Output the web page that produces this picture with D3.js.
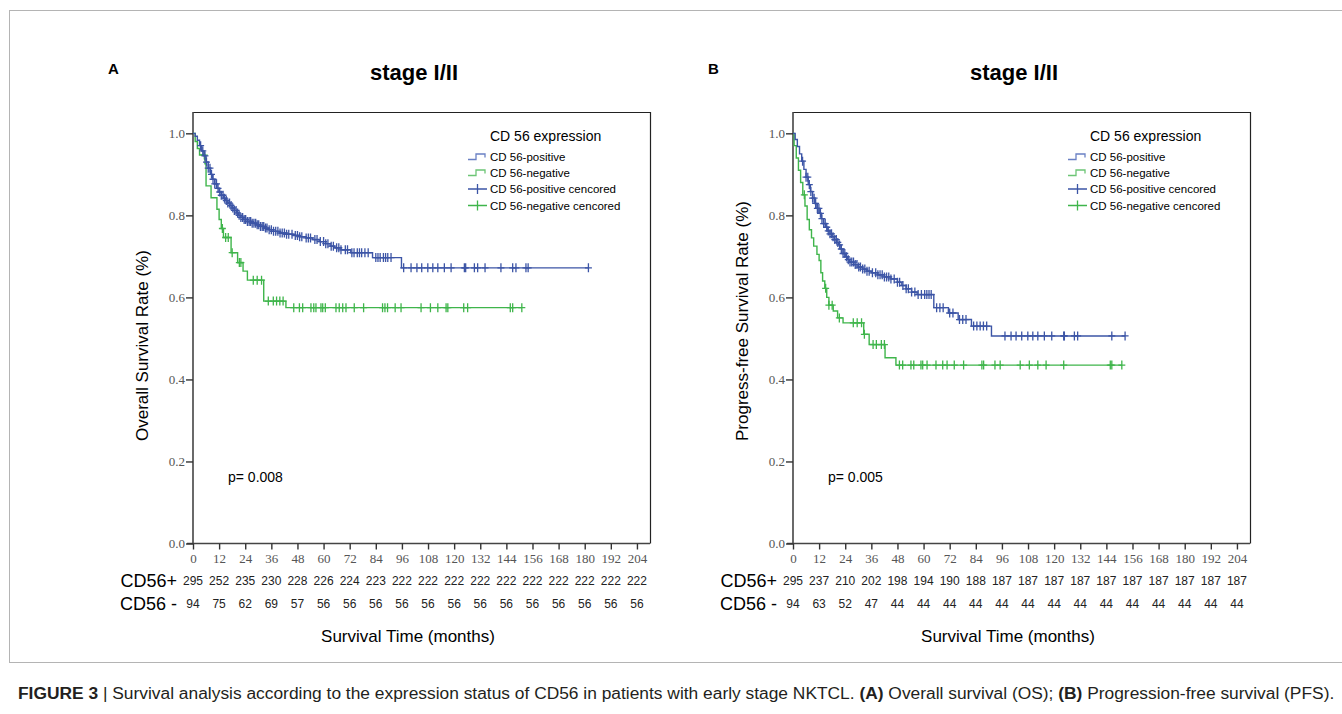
<!DOCTYPE html>
<meta charset="utf-8">
<style>
body { margin: 0; background: #fff; font-family: "Liberation Sans", Arial, sans-serif; }
svg { display: block; }
.tick-label { font-family: "Liberation Serif", "Times New Roman", serif; font-size: 13px; fill: #555; }
</style>
<body>
<script src="https://cdnjs.cloudflare.com/ajax/libs/d3/7.8.5/d3.min.js"></script>
<div id="chart"></div>
<script>

// x ticks (months) and numbers at risk
var monthTicks = [0, 12, 24, 36, 48, 60, 72, 84, 96, 108, 120, 132, 144, 156, 168, 180, 192, 204];
var yTicks = [0, 0.2, 0.4, 0.6, 0.8, 1.0];

var riskPosA = [295, 252, 235, 230, 228, 226, 224, 223, 222, 222, 222, 222, 222, 222, 222, 222, 222, 222];
var riskNegA = [94, 75, 62, 69, 57, 56, 56, 56, 56, 56, 56, 56, 56, 56, 56, 56, 56, 56];
var riskPosB = [295, 237, 210, 202, 198, 194, 190, 188, 187, 187, 187, 187, 187, 187, 187, 187, 187, 187];
var riskNegB = [94, 63, 52, 47, 44, 44, 44, 44, 44, 44, 44, 44, 44, 44, 44, 44, 44, 44];

// survival steps [month, survival] (panel A : overall survival)
var posStepsA = [[0,1],[1,0.993],[2,0.983],[3,0.970],[4,0.957],[5,0.945],[6,0.930],[7,0.915],[8,0.900],[9,0.888],
  [10,0.877],[11,0.866],[12,0.857],[13,0.849],[14,0.842],[15,0.836],[16,0.830],[17,0.824],[18,0.818],[19,0.812],
  [20,0.806],[21,0.800],[22,0.795],[23,0.790],[25,0.785],[27,0.781],[29,0.777],[31,0.773],[33,0.769],[35,0.765],
  [37,0.761],[40,0.757],[43,0.754],[46,0.751],[49,0.748],[52,0.745],[55,0.741],[58,0.736],[61,0.731],[63,0.725],
  [65,0.721],[68,0.716],[72.5,0.709],[82.5,0.697],[95.8,0.672]];
var posEndA = 181.7;
var negStepsA = [[0,1],[1,0.98],[2,0.963],[3,0.947],[5.5,0.926],[6,0.872],[8.3,0.843],[11,0.815],[12,0.79],[13,0.768],
  [14,0.746],[17.5,0.709],[20.5,0.685],[23,0.664],[25,0.642],[32.5,0.591],[42.7,0.575]];
var negEndA = 151.1;

var posCensorA = [3.5, 4.5, 5.5, 6.2, 7, 7.8, 8.5, 9.2, 10, 10.8, 11.5, 12.3, 13, 13.8, 14.5, 15.3, 16, 16.8, 17.5, 18.3,
  19, 19.8, 20.5, 21.2, 22, 22.8, 23.5, 24.2, 25, 25.8, 26.5, 27.2, 28, 28.8, 29.5, 30.2, 31, 31.8, 32.5, 33.3, 34, 35,
  36, 37, 38, 39, 40, 41, 42, 43, 44, 45.5, 47, 48, 49, 50, 52, 53, 54, 56, 57, 58.5, 60, 61, 62, 63.5, 64.5, 66, 67, 68,
  70, 71, 73, 74, 75.5, 76.5, 77.5, 79, 80.5, 84, 85, 86, 87.5, 88.5, 89.5, 91,
  96.8, 100.2, 102.9, 105.1, 107.9, 110.2, 112.5, 115.5, 118.6, 124.7, 125.3, 129.3, 130.8, 134.2, 141.5, 146.9, 148.4,
  153, 154, 181.7];
var negCensorA = [5.2, 13.5, 15, 16.2, 18, 21.3, 22, 27.7, 29.5, 31.5, 34.6, 36.9, 38.4, 39.9, 41.4, 46.3, 48.9, 50.4,
  54.2, 55.5, 56.5, 58.8, 59.6, 60.8, 65.7, 67.2, 68.8, 70.3, 74.1, 78.4, 87.1, 88.2, 89.4, 92.9, 95.6, 104.8, 109.1,
  112.5, 116.3, 117.1, 124.4, 126.2, 145.8, 146.9, 151.1];

// panel B : progression-free survival
var posStepsB = [[0,1],[1,0.985],[2,0.968],[3,0.950],[4,0.932],[5,0.912],[6,0.893],[7,0.875],[8,0.858],[9,0.842],
  [10,0.829],[11,0.817],[12,0.805],[13,0.792],[14,0.780],[15,0.771],[16,0.762],[17,0.755],[18,0.748],[19,0.741],
  [20,0.734],[21,0.728],[22,0.718],[23,0.707],[24,0.699],[25,0.692],[26,0.686],[28,0.680],[30,0.674],[32,0.669],
  [34,0.664],[36,0.660],[39,0.655],[42,0.650],[45,0.645],[48,0.637],[50,0.629],[52,0.621],[54.5,0.613],[57,0.607],
  [64.7,0.575],[71.4,0.562],[75.9,0.546],[82,0.530],[91.2,0.506]];
var posEndB = 152.6;
var negStepsB = [[0,1],[0.5,0.97],[1.5,0.94],[2.5,0.91],[3.5,0.88],[4.5,0.85],[5.5,0.823],[6.5,0.79],[7.5,0.765],
  [8.5,0.745],[9.5,0.725],[11,0.705],[12,0.69],[12.8,0.66],[13.6,0.64],[14.6,0.622],[15.5,0.6],[16.5,0.581],
  [18.5,0.567],[20.5,0.55],[23,0.538],[32.5,0.51],[35,0.485],[42.3,0.453],[47.3,0.435]];
var negEndB = 151.1;

var posCensorB = [4.4, 6, 6.8, 7.5, 8.2, 9, 9.7, 10.4, 11.2, 11.9, 12.6, 13.3, 14.1, 14.8, 15.5, 16.2, 17, 17.7, 18.4,
  19.2, 19.9, 20.6, 21.4, 22.2, 23, 23.8, 24.6, 25.4, 26.2, 27, 27.8, 28.6, 29.4, 30.2, 31, 32, 33, 34, 35, 36.5, 38, 39,
  40, 41, 42, 43, 44, 45, 46.5, 48, 49, 50.5, 52, 53, 54.5, 56, 57.5, 59, 60.5, 61.5, 62.5, 63.5, 66, 67.5, 69, 72, 73.5,
  76.5, 78, 79.5, 83, 84.5, 86, 87.5, 89,
  97.4, 100.2, 102.5, 105.1, 107.9, 110.2, 112.5, 115.5, 118.9, 124.4, 124.7, 129.3, 130.8, 146.5, 152.6];
var negCensorB = [5.2, 15, 16.5, 18, 21.3, 27.7, 29.5, 31.5, 32.8, 36.8, 38.3, 40.6, 42, 48.9, 50.4, 54.2, 55.5, 58.8,
  59.6, 61.6, 65.7, 68.8, 70.8, 74.1, 78.4, 86.8, 87.6, 92.8, 95.2, 104.4, 108.6, 112.5, 116.3, 124.4, 145.8, 146.5, 151.1];

var legendItems = ["CD 56-positive", "CD 56-negative", "CD 56-positive cencored", "CD 56-negative cencored"];

var blue = "#3c55a6";
var green = "#3fb54b";

var largeur = 1342, hauteur = 714;

const svg = d3.select("#chart").append("svg")
    .attr("width", largeur)
    .attr("height", hauteur);

// cadre de la figure
svg.append("rect")
    .attr("x", 9.5).attr("y", 10.5)
    .attr("width", 1340).attr("height", 652)
    .attr("fill", "none")
    .attr("stroke", "#b4b4b4")
    .attr("stroke-width", 1);

function survieA(steps, t) {
    var s = steps[0][1];
    for (var i = 0; i < steps.length; i++) {
        if (steps[i][0] <= t) s = steps[i][1];
    }
    return s;
}

function drawPanel(p) {
    var g = svg.append("g").attr("transform", "translate(" + p.dx + ",0)");

    var x = d3.scaleLinear().domain([0, 210]).range([193, 650]);
    var y = d3.scaleLinear().domain([0, 1.052]).range([543.5, 112]);

    g.append("text")
        .attr("x", 108).attr("y", 74)
        .style("font-size", "15px").style("font-weight", "bold")
        .text(p.letter);

    g.append("text")
        .attr("x", 414).attr("y", 80)
        .attr("text-anchor", "middle")
        .style("font-size", "22px").style("font-weight", "bold")
        .text("stage I/II");

    // cadre haut et droite
    g.append("path")
        .attr("d", "M" + x(0) + "," + (y(1.052) + 0.5) + "H" + (x(210) + 0.5) + "V" + y(0))
        .attr("fill", "none")
        .attr("stroke", "#222")
        .attr("stroke-width", 1.2);

    // axes
    var xAxis = d3.axisBottom(x).tickValues(monthTicks).tickSize(6).tickFormat(d3.format("d"));
    var gx = g.append("g")
        .attr("transform", "translate(0," + y(0) + ")")
        .call(xAxis);
    gx.select(".domain").attr("d", "M" + (x(0) - 6) + ",0H" + x(210)).attr("stroke", "#444").attr("stroke-width", 1.6);
    gx.selectAll(".tick line").attr("stroke", "#333").attr("stroke-width", 1.4);
    gx.selectAll(".tick text").attr("class", "tick-label").attr("dy", 0).attr("y", 19)
        .attr("font-family", null).attr("font-size", null).attr("fill", null);

    var yAxis = d3.axisLeft(y).tickValues(yTicks).tickSize(7).tickFormat(d3.format(".1f"));
    var gy = g.append("g")
        .attr("transform", "translate(" + x(0) + ",0)")
        .call(yAxis);
    gy.select(".domain").attr("d", "M0," + y(0) + "V" + y(1.052)).attr("stroke", "#444").attr("stroke-width", 1.6);
    gy.selectAll(".tick line").attr("stroke", "#333").attr("stroke-width", 1.4);
    gy.selectAll(".tick text").attr("class", "tick-label").attr("x", -8).attr("dy", "0.32em")
        .attr("font-family", null).attr("font-size", null).attr("fill", null);

    // titre axe y
    g.append("text")
        .attr("transform", "translate(148,441) rotate(-90)")
        .attr("text-anchor", "start")
        .style("font-size", "17px")
        .text(p.yLabel);

    // courbes
    var line = d3.line()
        .x(d => x(d[0]))
        .y(d => y(d[1]))
        .curve(d3.curveStepAfter);

    var series = [
        {steps: p.negSteps, end: p.negEnd, censor: p.negCensor, color: green},
        {steps: p.posSteps, end: p.posEnd, censor: p.posCensor, color: blue}
    ];
    series.forEach(function(s) {
        var pts = s.steps.concat([[s.end, s.steps[s.steps.length - 1][1]]]);
        g.append("path")
            .datum(pts)
            .attr("fill", "none")
            .attr("stroke", s.color)
            .attr("stroke-width", 1.4)
            .attr("d", line);
        g.selectAll(null)
            .data(s.censor)
            .enter().append("path")
            .attr("d", function(t) {
                var cx = x(t), cy = y(survieA(s.steps, t));
                return "M" + (cx - 3.5) + "," + cy + "H" + (cx + 3.5) + "M" + cx + "," + (cy - 4.5) + "V" + (cy + 4.5);
            })
            .attr("stroke", s.color)
            .attr("stroke-width", 1.3)
            .attr("fill", "none");
    });

    // légende
    g.append("text")
        .attr("x", 490).attr("y", 141)
        .style("font-size", "14px")
        .text("CD 56 expression");
    var lg = g.selectAll(".leg")
        .data(legendItems)
        .enter().append("g")
        .attr("transform", (d, i) => "translate(0," + [156.5, 172.5, 189, 205.5][i] + ")");
    lg.append("text")
        .attr("x", 490).attr("y", 4)
        .style("font-size", "11.5px")
        .text(d => d);
    lg.append("path")
        .attr("d", function(d, i) {
            if (i < 2) return "M468,3H476V-2.5H485V1";
            return "M468,0H487M477.5,-5V5";
        })
        .attr("fill", "none")
        .attr("stroke", (d, i) => (i % 2 === 0 ? (i < 2 ? "#6a80c4" : blue) : (i < 2 ? "#6cc575" : green)))
        .attr("stroke-width", 1.3);

    // p value
    g.append("text")
        .attr("x", 228).attr("y", 482)
        .style("font-size", "14px")
        .text(p.pval);

    // nombre de sujets à risque
    g.append("text").attr("x", 177).attr("y", 587).attr("text-anchor", "end").style("font-size", "18px").text("CD56+");
    g.append("text").attr("x", 177).attr("y", 610).attr("text-anchor", "end").style("font-size", "18px").text("CD56 -");
    [[p.riskPos, 585], [p.riskNeg, 608]].forEach(function(r) {
        g.selectAll(null)
            .data(r[0])
            .enter().append("text")
            .attr("x", (d, i) => x(monthTicks[i]))
            .attr("y", r[1])
            .attr("text-anchor", "middle")
            .style("font-size", "12px")
            .style("fill", "#222")
            .text(d => d);
    });

    g.append("text")
        .attr("x", 408).attr("y", 642)
        .attr("text-anchor", "middle")
        .style("font-size", "17px")
        .text("Survival Time (months)");
}

drawPanel({dx: 0, letter: "A", yLabel: "Overall Survival Rate (%)", pval: "p= 0.008",
    posSteps: posStepsA, posEnd: posEndA, negSteps: negStepsA, negEnd: negEndA,
    posCensor: posCensorA, negCensor: negCensorA, riskPos: riskPosA, riskNeg: riskNegA});
drawPanel({dx: 600, letter: "B", yLabel: "Progress-free Survival Rate (%)", pval: "p= 0.005",
    posSteps: posStepsB, posEnd: posEndB, negSteps: negStepsB, negEnd: negEndB,
    posCensor: posCensorB, negCensor: negCensorB, riskPos: riskPosB, riskNeg: riskNegB});

// légende de la figure
var cap = svg.append("text")
    .attr("x", 0).attr("y", 0)
    .style("font-family", "'Liberation Sans Narrow', 'Arial Narrow', 'Liberation Sans', sans-serif")
    .style("font-size", "16px")
    .style("fill", "#231f20");
[["FIGURE 3", true], [" | Survival analysis according to the expression status of CD56 in patients with early stage NKTCL. ", false],
 ["(A)", true], [" Overall survival (OS); ", false], ["(B)", true], [" Progression-free survival (PFS).", false]]
.forEach(function(c) {
    cap.append("tspan").style("font-weight", c[1] ? "bold" : "normal").text(c[0]);
});
var w = cap.node().getComputedTextLength();
cap.attr("transform", "translate(18,699) scale(" + (1318 / w) + ",1)");

</script>
</body>
